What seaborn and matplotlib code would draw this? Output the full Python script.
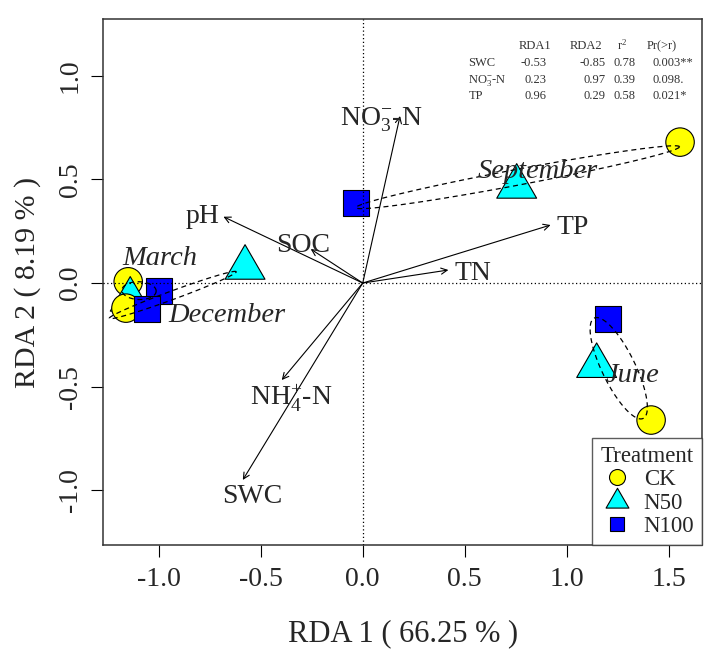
import numpy as np
import pandas as pd
import matplotlib
matplotlib.use("Agg")
import matplotlib.pyplot as plt
from matplotlib.path import Path
from matplotlib.lines import Line2D
import seaborn as sns

# ---------------- data ----------------
months = ["March", "June", "September", "December"]
treatments = ["CK", "N50", "N100"]
rda1_ck = [-1.150, 1.414, 1.556, -1.161]
rda1_n50 = [-1.140, 1.147, 0.755, -0.577]
rda1_n100 = [-1.000, 1.205, -0.031, -1.057]
rda2_ck = [0.006, -0.661, 0.680, -0.121]
rda2_n50 = [-0.080, -0.400, 0.465, 0.074]
rda2_n100 = [-0.036, -0.172, 0.387, -0.127]

env_labels = [r"NO$_3^{-}$-N", "TP", "TN", "pH", "SOC", r"NH$_4^{+}$-N", "SWC"]
env_rda1 = [0.183, 0.921, 0.420, -0.683, -0.255, -0.397, -0.588]
env_rda2 = [0.806, 0.280, 0.063, 0.320, 0.164, -0.468, -0.950]

tab_vars = ["SWC", r"NO$_3^{-}$-N", "TP"]
tab_rda1 = ["-0.53", "0.23", "0.96"]
tab_rda2 = ["-0.85", "0.97", "0.29"]
tab_r2 = ["0.78", "0.39", "0.58"]
tab_p = ["0.003**", "0.098.", "0.021*"]

xlabel = "RDA 1 ( 66.25 % )"
ylabel = "RDA 2 ( 8.19 % )"

# ---------------- table ----------------
rows = []
for i, m in enumerate(months):
    rows.append((m, "CK", rda1_ck[i], rda2_ck[i]))
    rows.append((m, "N50", rda1_n50[i], rda2_n50[i]))
    rows.append((m, "N100", rda1_n100[i], rda2_n100[i]))
df = pd.DataFrame(rows, columns=["Month", "Treatment", "RDA1", "RDA2"])

# ---------------- style ----------------
sns.set_style("white")
plt.rcParams["font.family"] = ["Liberation Serif", "DejaVu Serif"]
plt.rcParams["mathtext.fontset"] = "custom"
plt.rcParams["mathtext.rm"] = "Liberation Serif"
plt.rcParams["mathtext.it"] = "Liberation Serif:italic"
plt.rcParams["mathtext.bf"] = "Liberation Serif:bold"

fig = plt.figure(figsize=(7.24, 6.51), dpi=100)
ax = fig.add_axes([0.1427, 0.1628, 0.8273, 0.808])

tri = Path([(-1, -0.577), (1, -0.577), (0, 1.155), (-1, -0.577)],
           [Path.MOVETO, Path.LINETO, Path.LINETO, Path.CLOSEPOLY])
markers = {"CK": "o", "N50": tri, "N100": "s"}
palette = {"CK": "#FFFF00", "N50": "#00FFFF", "N100": "#0000FF"}
sizes = {"CK": 420, "N50": 1100, "N100": 350}

sns.scatterplot(data=df, x="RDA1", y="RDA2", hue="Treatment", style="Treatment",
                size="Treatment", hue_order=treatments, style_order=treatments,
                size_order=treatments, markers=markers, palette=palette, sizes=sizes,
                edgecolor="black", linewidth=0.8, ax=ax, zorder=3, legend=True)

# reference lines
ax.axhline(0, color="black", lw=0.9, ls=(0, (1, 2)), zorder=4)
ax.axvline(0, color="black", lw=0.9, ls=(0, (1, 2)), zorder=4)

# SD ellipses per month
t = np.linspace(0, 2 * np.pi, 200)
for m in months:
    sub = df[df["Month"] == m][["RDA1", "RDA2"]].to_numpy()
    c = sub.mean(axis=0)
    cov = np.cov(sub.T)
    L = np.linalg.cholesky(cov)
    pts = c[:, None] + L @ np.vstack([np.cos(t), np.sin(t)])
    ax.plot(pts[0], pts[1], color="black", lw=0.9, ls=(0, (4, 3)), zorder=5)

# environmental arrows
for x, y in zip(env_rda1, env_rda2):
    ax.annotate("", xy=(x, y), xytext=(0, 0),
                arrowprops=dict(arrowstyle="->", lw=0.8, color="black",
                                mutation_scale=11, shrinkA=0, shrinkB=0),
                zorder=6)

env_pos = [(0.092, 0.762), (1.032, 0.236), (0.540, 0.0145), (-0.787, 0.291),
           (-0.294, 0.151), (-0.352, -0.589), (-0.542, -1.060)]
for lab, (x, y) in zip(env_labels, env_pos):
    ax.text(x, y, lab, ha="center", va="baseline", fontsize=20, zorder=7)

month_pos = [(-0.996, 0.087), (1.323, -0.476), (0.857, 0.505), (-0.665, -0.187)]
for m, (x, y) in zip(months, month_pos):
    ax.text(x, y, m, ha="center", va="baseline", fontsize=20.5, style="italic", zorder=7)

# stats table
tc = "#333333"
fs = 9
hy = 1.128
ax.text(0.843, hy, "RDA1", ha="center", va="baseline", fontsize=fs, color=tc)
ax.text(1.097, hy, "RDA2", ha="center", va="baseline", fontsize=fs, color=tc)
ax.text(1.271, hy, r"r$^2$", ha="center", va="baseline", fontsize=fs, color=tc)
ax.text(1.466, hy, "Pr(>r)", ha="center", va="baseline", fontsize=fs, color=tc)
row_y = [1.046, 0.964, 0.887]
for i in range(3):
    yy = row_y[i]
    ax.text(0.518, yy, tab_vars[i], ha="left", va="baseline", fontsize=fs, color=tc)
    ax.text(0.903, yy, tab_rda1[i], ha="right", va="baseline", fontsize=fs, color=tc)
    ax.text(1.191, yy, tab_rda2[i], ha="right", va="baseline", fontsize=fs, color=tc)
    ax.text(1.286, yy, tab_r2[i], ha="center", va="baseline", fontsize=fs, color=tc)
    ax.text(1.422, yy, tab_p[i], ha="left", va="baseline", fontsize=fs, color=tc)

# axes
ax.set_xlim(-1.272, 1.665)
ax.set_ylim(-1.264, 1.274)
ax.set_xticks([-1.0, -0.5, 0.0, 0.5, 1.0, 1.5])
ax.set_yticks([-1.0, -0.5, 0.0, 0.5, 1.0])
ax.set_xticklabels(["-1.0", "-0.5", "0.0", "0.5", "1.0", "1.5"])
ax.set_yticklabels(["-1.0", "-0.5", "0.0", "0.5", "1.0"], rotation=90, va="center")
ax.tick_params(axis="both", direction="out", length=8.6, width=0.8, labelsize=20,
               color="black", bottom=True, left=True)
ax.tick_params(axis="x", pad=7)
ax.tick_params(axis="y", pad=6)
ax.set_xlabel(xlabel, fontsize=22, labelpad=20)
ax.set_ylabel(ylabel, fontsize=21.5, labelpad=12)
for s in ax.spines.values():
    s.set_color("#333333")
    s.set_linewidth(1.1)

# legend
handles = [
    Line2D([], [], ls="none", marker="o", markersize=11.5, markerfacecolor=palette["CK"],
           markeredgecolor="black", markeredgewidth=0.8),
    Line2D([], [], ls="none", marker=tri, markersize=19, markerfacecolor=palette["N50"],
           markeredgecolor="black", markeredgewidth=0.8),
    Line2D([], [], ls="none", marker="s", markersize=10, markerfacecolor=palette["N100"],
           markeredgecolor="black", markeredgewidth=0.8),
]
leg = ax.legend(handles, treatments, title="Treatment", loc="lower right",
                fontsize=16.5, title_fontsize=16.5, frameon=True, fancybox=False,
                edgecolor="#333333", borderaxespad=0, borderpad=0.35,
                labelspacing=0.1, handlelength=1.45, handletextpad=0.45)
leg.get_frame().set_linewidth(1.0)
leg.set_zorder(10)

fig.savefig("out.png", dpi=100)
